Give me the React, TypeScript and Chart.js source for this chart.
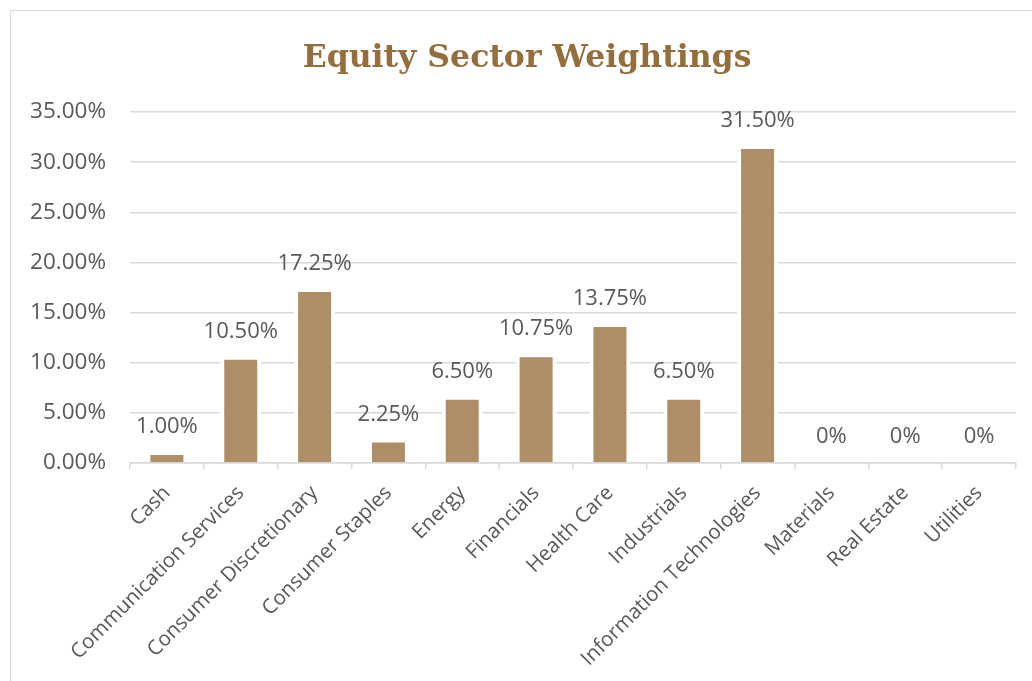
import React, { useEffect, useRef } from "react";
import { Chart, registerables } from "chart.js";

Chart.register(...registerables);

const categories = [
  "Cash",
  "Communication Services",
  "Consumer Discretionary",
  "Consumer Staples",
  "Energy",
  "Financials",
  "Health Care",
  "Industrials",
  "Information Technologies",
  "Materials",
  "Real Estate",
  "Utilities",
];
const weights = [1.0, 10.5, 17.25, 2.25, 6.5, 10.75, 13.75, 6.5, 31.5, 0, 0, 0];
const yTicks = [0, 5, 10, 15, 20, 25, 30, 35];
const TITLE = "Equity Sector Weightings";

const FONT = "'Open Sans', sans-serif";
const TEXT = "#595959";
const BAR = "#AD8E67";

const fmtLabel = (v: number) => (v === 0 ? "0%" : v.toFixed(2) + "%");

const dataLabelPlugin = {
  id: "dataLabels",
  afterDatasetsDraw(chart: any) {
    const ctx = chart.ctx;
    const meta = chart.getDatasetMeta(0);
    ctx.save();
    ctx.font = `22px ${FONT}`;
    ctx.fillStyle = TEXT;
    ctx.textAlign = "center";
    ctx.textBaseline = "middle";
    meta.data.forEach((bar: any, i: number) => {
      const v = chart.data.datasets[0].data[i];
      ctx.fillText(fmtLabel(v), bar.x, bar.y - 26);
    });
    ctx.restore();
  },
};

const centeredTitlePlugin = {
  id: "centeredTitle",
  afterDraw(chart: any) {
    const ctx = chart.ctx;
    ctx.save();
    ctx.font = `bold 31.5px 'DejaVu Serif', serif`;
    ctx.fillStyle = "#946F3D";
    ctx.textAlign = "center";
    ctx.textBaseline = "alphabetic";
    ctx.fillText(TITLE, chart.width / 2, 56);
    ctx.restore();
  },
};

export default function App() {
  const ref = useRef<HTMLCanvasElement>(null);
  useEffect(() => {
    if (!ref.current) return;
    const chart = new Chart(ref.current, {
      type: "bar",
      data: {
        labels: categories,
        datasets: [
          {
            data: weights,
            backgroundColor: BAR,
            borderColor: "#ffffff",
            borderWidth: { top: 2, left: 4, right: 4, bottom: 0 } as any,
            borderSkipped: false as any,
            barPercentage: 1,
            categoryPercentage: 0.555,
          },
        ],
      },
      options: {
        animation: false,
        responsive: false,
        maintainAspectRatio: false,
        layout: { padding: { left: 0, right: 27, top: 101, bottom: 0 } },
        plugins: {
          legend: { display: false },
          tooltip: { enabled: false },
          title: { display: false },
        },
        scales: {
          x: {
            grid: {
              drawOnChartArea: false,
              drawTicks: true,
              tickLength: 6,
              color: "#d9d9d9",
              lineWidth: 1.5,
              offset: true,
            },
            border: { display: true, color: "#d9d9d9", width: 1.5 },
            ticks: {
              color: TEXT,
              font: { family: FONT, size: 20.5 },
              minRotation: 45,
              maxRotation: 45,
              autoSkip: false,
              padding: 12,
            },
            afterFit(scale: any) {
              scale.height = 238;
            },
          },
          y: {
            min: 0,
            max: 35,
            afterBuildTicks(scale: any) {
              scale.ticks = yTicks.map((v) => ({ value: v }));
            },
            grid: { color: "#d9d9d9", lineWidth: 1.5, drawTicks: false },
            border: { display: false },
            ticks: {
              color: TEXT,
              font: { family: FONT, size: 22.5 },
              padding: 24,
              callback: (v: any) => Number(v).toFixed(2) + "%",
            },
            afterFit(scale: any) {
              scale.width = 119;
            },
          },
        },
      },
      plugins: [dataLabelPlugin, centeredTitlePlugin],
    });
    return () => chart.destroy();
  }, []);

  return (
    <div style={{ position: "fixed", inset: 0, overflow: "hidden", background: "#fff" }}>
      <div
        style={{
          position: "absolute",
          left: 10,
          top: 10,
          width: 1040,
          height: 700,
          border: "1px solid #d9d9d9",
          background: "#fff",
        }}
      >
        <canvas ref={ref} width={1032} height={690} style={{ display: "block" }} />
      </div>
    </div>
  );
}
